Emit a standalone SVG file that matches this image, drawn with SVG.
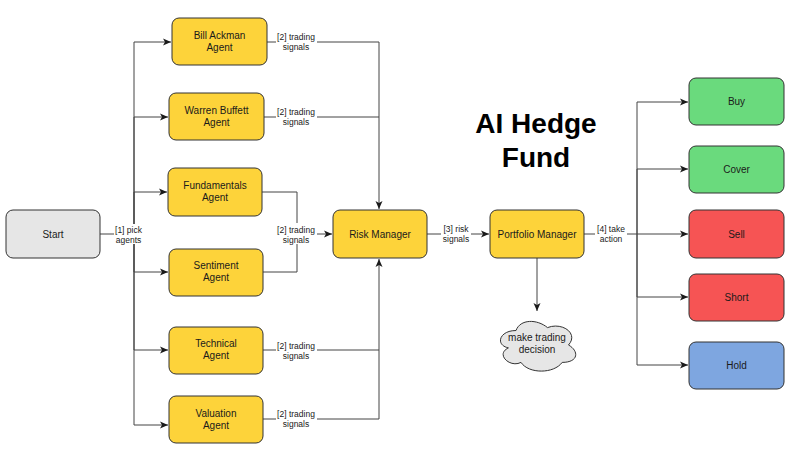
<svg xmlns="http://www.w3.org/2000/svg" width="800" height="456" viewBox="0 0 800 456">
<defs>
<marker id="arr" markerWidth="9" markerHeight="8" refX="8" refY="4" orient="auto" markerUnits="userSpaceOnUse">
<path d="M0,0.5 L8,4 L0,7.5 L2,4 Z" fill="#1a1a1a"/>
</marker>
<style>
.box{stroke:#333;stroke-width:1}
.agent{fill:#FDD33A}
.gray{fill:#E6E6E6}
.green{fill:#6ADA7D}
.red{fill:#F65454}
.blue{fill:#7EA6E0}
.t{font-family:"Liberation Sans",Arial,sans-serif;font-size:10px;fill:#1a1a1a;text-anchor:middle}
.lbl{font-family:"Liberation Sans",Arial,sans-serif;font-size:8.5px;fill:#1a1a1a;text-anchor:middle}
.edge{fill:none;stroke:#444;stroke-width:1}
.title{font-family:"Liberation Sans",Arial,sans-serif;font-size:28px;font-weight:bold;fill:#000;text-anchor:middle}
</style>
</defs>
<rect width="800" height="456" fill="#fff"/>

<g id="connectors">
<path class="edge" d="M100 234 H134 V42 H171" marker-end="url(#arr)"/>
<path class="edge" d="M134 234 V117 H168" marker-end="url(#arr)"/>
<path class="edge" d="M134 234 V192 H167" marker-end="url(#arr)"/>
<path class="edge" d="M134 234 V272 H168" marker-end="url(#arr)"/>
<path class="edge" d="M134 234 V350 H168" marker-end="url(#arr)"/>
<path class="edge" d="M134 234 V425 H168" marker-end="url(#arr)"/>
<path class="edge" d="M267 42 H379 V209" marker-end="url(#arr)"/>
<path class="edge" d="M264 117 H379"/>
<path class="edge" d="M262 192 H297 V234 H332" marker-end="url(#arr)"/>
<path class="edge" d="M263 272 H297 V234"/>
<path class="edge" d="M263 350 H379 V259" marker-end="url(#arr)"/>
<path class="edge" d="M263 419 H379 V350"/>
<path class="edge" d="M427 234 H489" marker-end="url(#arr)"/>
<path class="edge" d="M537 258 V311" marker-end="url(#arr)"/>
<path class="edge" d="M584 234 H688" marker-end="url(#arr)"/>
<path class="edge" d="M637 234 V102 H688" marker-end="url(#arr)"/>
<path class="edge" d="M637 234 V169 H688" marker-end="url(#arr)"/>
<path class="edge" d="M637 234 V297 H688" marker-end="url(#arr)"/>
<path class="edge" d="M637 234 V365 H688" marker-end="url(#arr)"/>
<g id="edge-labels">
<rect x="114" y="224" width="29" height="20" fill="#fff"/>
<text class="lbl" x="128.5" y="233">[1] pick</text>
<text class="lbl" x="128.5" y="243">agents</text>
<rect x="276" y="31" width="41" height="20" fill="#fff"/>
<text class="lbl" x="296" y="40">[2] trading</text>
<text class="lbl" x="296" y="50">signals</text>
<rect x="276" y="106" width="41" height="20" fill="#fff"/>
<text class="lbl" x="296" y="115">[2] trading</text>
<text class="lbl" x="296" y="125">signals</text>
<rect x="276" y="223" width="41" height="21" fill="#fff"/>
<text class="lbl" x="296" y="233">[2] trading</text>
<text class="lbl" x="296" y="243">signals</text>
<rect x="276" y="340" width="41" height="20" fill="#fff"/>
<text class="lbl" x="296" y="349">[2] trading</text>
<text class="lbl" x="296" y="359">signals</text>
<rect x="276" y="408" width="41" height="20" fill="#fff"/>
<text class="lbl" x="296" y="417">[2] trading</text>
<text class="lbl" x="296" y="427">signals</text>
<rect x="441" y="223" width="30" height="20" fill="#fff"/>
<text class="lbl" x="456" y="232">[3] risk</text>
<text class="lbl" x="456" y="242">signals</text>
<rect x="595" y="223" width="32" height="20" fill="#fff"/>
<text class="lbl" x="611" y="232">[4] take</text>
<text class="lbl" x="611" y="242">action</text>
</g>
</g>

<g id="start">
<rect class="box gray" x="6" y="210" width="94" height="48" rx="7"/>
<text class="t" x="53" y="237.5">Start</text>
</g>
<g id="bill-ackman">
<rect class="box agent" x="172" y="18" width="95" height="47" rx="7"/>
<text class="t" x="219.5" y="39">Bill Ackman</text>
<text class="t" x="219.5" y="51">Agent</text>
</g>
<g id="warren-buffett">
<rect class="box agent" x="169" y="93" width="95" height="47" rx="7"/>
<text class="t" x="216.5" y="114">Warren Buffett</text>
<text class="t" x="216.5" y="126">Agent</text>
</g>
<g id="fundamentals">
<rect class="box agent" x="168" y="168" width="94" height="48" rx="7"/>
<text class="t" x="215" y="189">Fundamentals</text>
<text class="t" x="215" y="201">Agent</text>
</g>
<g id="sentiment">
<rect class="box agent" x="169" y="249" width="94" height="47" rx="7"/>
<text class="t" x="216" y="269">Sentiment</text>
<text class="t" x="216" y="281">Agent</text>
</g>
<g id="technical">
<rect class="box agent" x="169" y="327" width="94" height="47" rx="7"/>
<text class="t" x="216" y="347">Technical</text>
<text class="t" x="216" y="359">Agent</text>
</g>
<g id="valuation">
<rect class="box agent" x="169" y="396" width="94" height="47" rx="7"/>
<text class="t" x="216" y="417">Valuation</text>
<text class="t" x="216" y="429">Agent</text>
</g>
<g id="risk-manager">
<rect class="box agent" x="333" y="210" width="94" height="48" rx="7"/>
<text class="t" x="380" y="237.5">Risk Manager</text>
</g>
<g id="portfolio-manager">
<rect class="box agent" x="490" y="210" width="94" height="48" rx="7"/>
<text class="t" x="537" y="237.5">Portfolio Manager</text>
</g>
<g id="decision">
<path class="box gray" d="M516 330.5 C499.2 330.5 495 345 508.4 347.9 C495 354.3 510.1 368.2 521 362.4 C528.6 374 553.8 374 562.2 362.4 C579 362.4 579 350.8 568.5 345 C579 333.4 562.2 321.8 547.5 327.6 C537 318.9 520.2 318.9 516 330.5 Z"/>
<text class="t" x="537" y="341">make trading</text>
<text class="t" x="537" y="353">decision</text>
</g>
<g id="title">
<text class="title" x="536" y="133">AI Hedge</text>
<text class="title" x="536" y="167">Fund</text>
</g>
<g id="buy">
<rect class="box green" x="689" y="78" width="95" height="47" rx="7"/>
<text class="t" x="736.5" y="105">Buy</text>
</g>
<g id="cover">
<rect class="box green" x="689" y="146" width="95" height="47" rx="7"/>
<text class="t" x="736.5" y="173">Cover</text>
</g>
<g id="sell">
<rect class="box red" x="689" y="210" width="95" height="48" rx="7"/>
<text class="t" x="736.5" y="237.5">Sell</text>
</g>
<g id="short">
<rect class="box red" x="689" y="274" width="95" height="47" rx="7"/>
<text class="t" x="736.5" y="301">Short</text>
</g>
<g id="hold">
<rect class="box blue" x="689" y="342" width="95" height="47" rx="7"/>
<text class="t" x="736.5" y="369">Hold</text>
</g>
</svg>
